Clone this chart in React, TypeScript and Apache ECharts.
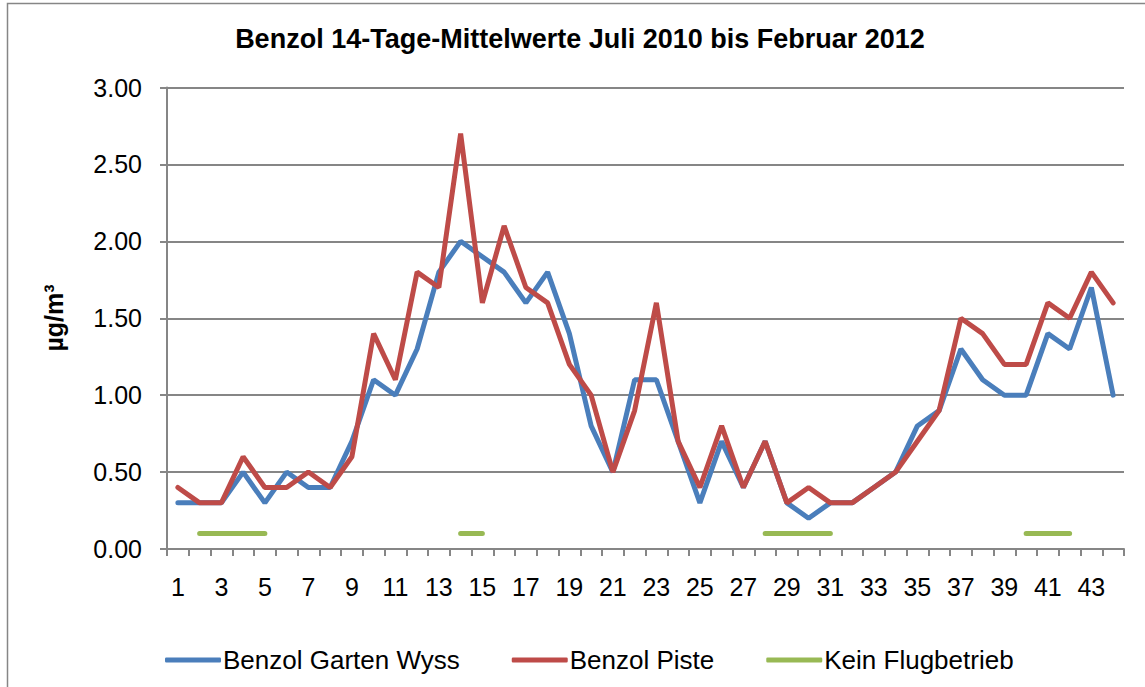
import React, { useEffect, useRef } from "react";
import * as echarts from "echarts";

const categories = Array.from({ length: 44 }, (_, i) => String(i + 1));

const gartenWyss = [
  0.3, 0.3, 0.3, 0.5, 0.3, 0.5, 0.4, 0.4, 0.7, 1.1,
  1.0, 1.3, 1.8, 2.0, 1.9, 1.8, 1.6, 1.8, 1.4, 0.8,
  0.5, 1.1, 1.1, 0.7, 0.3, 0.7, 0.4, 0.7, 0.3, 0.2,
  0.3, 0.3, 0.4, 0.5, 0.8, 0.9, 1.3, 1.1, 1.0, 1.0,
  1.4, 1.3, 1.7, 1.0,
];

const piste = [
  0.4, 0.3, 0.3, 0.6, 0.4, 0.4, 0.5, 0.4, 0.6, 1.4,
  1.1, 1.8, 1.7, 2.7, 1.6, 2.1, 1.7, 1.6, 1.2, 1.0,
  0.5, 0.9, 1.6, 0.7, 0.4, 0.8, 0.4, 0.7, 0.3, 0.4,
  0.3, 0.3, 0.4, 0.5, 0.7, 0.9, 1.5, 1.4, 1.2, 1.2,
  1.6, 1.5, 1.8, 1.6,
];

const N = null;
const keinFlugbetrieb = [
  N, 0.1, 0.1, 0.1, 0.1, N, N, N, N, N,
  N, N, N, 0.1, 0.1, N, N, N, N, N,
  N, N, N, N, N, N, N, 0.1, 0.1, 0.1,
  0.1, N, N, N, N, N, N, N, N, 0.1,
  0.1, 0.1, N, N,
];

const titleText = "Benzol 14-Tage-Mittelwerte Juli 2010 bis Februar 2012";
const yName = "µg/m³";
const seriesNames = ["Benzol Garten Wyss", "Benzol Piste", "Kein Flugbetrieb"];
const colors = ["#4A7EBB", "#BE4B48", "#98B954"];

const FONT = "'Liberation Sans', Arial, sans-serif";
const GRAY = "#868686";

export default function App() {
  const ref = useRef<HTMLDivElement>(null);
  useEffect(() => {
    if (!ref.current) return;
    const chart = echarts.init(ref.current, null, { renderer: "svg" });
    chart.setOption({
      animation: false,
      backgroundColor: "#ffffff",
      textStyle: { fontFamily: FONT },
      grid: { left: 167, right: 21, top: 87.5, bottom: 138, containLabel: false },
      graphic: [
        {
          type: "rect",
          z: -10,
          shape: { x: 7.5, y: 3.5, width: 1200, height: 750 },
          style: { fill: "none", stroke: GRAY, lineWidth: 1.5 },
        },
        {
          type: "text",
          x: 580,
          y: 39,
          style: {
            text: titleText,
            font: `bold 27px ${FONT}`,
            fill: "#000",
            align: "center",
            verticalAlign: "middle",
          },
        },
        {
          type: "text",
          x: 54,
          y: 318,
          rotation: Math.PI / 2,
          style: {
            text: yName,
            font: `bold 25px ${FONT}`,
            fill: "#000",
            align: "center",
            verticalAlign: "middle",
          },
        },
      ],
      legend: {
        left: 160,
        top: 642,
        icon: "roundRect",
        itemWidth: 56,
        itemHeight: 5,
        itemGap: 52,
        data: seriesNames,
        textStyle: { fontFamily: FONT, fontSize: 26, color: "#000", padding: [0, 0, 0, -3] },
      },
      xAxis: {
        type: "category",
        data: categories,
        boundaryGap: true,
        axisLine: { lineStyle: { color: GRAY, width: 2 } },
        axisTick: { show: true, interval: 0, length: 7, lineStyle: { color: GRAY, width: 2 } },
        axisLabel: { interval: 1, margin: 25, fontSize: 25, color: "#000", fontFamily: FONT },
        splitLine: { show: false },
      },
      yAxis: {
        type: "value",
        min: 0,
        max: 3,
        interval: 0.5,
        axisLine: { show: true, lineStyle: { color: GRAY, width: 2 } },
        axisTick: { show: true, length: 7, lineStyle: { color: GRAY, width: 2 } },
        axisLabel: {
          margin: 25,
          fontSize: 25,
          color: "#000",
          fontFamily: FONT,
          formatter: (v: number) => v.toFixed(2),
        },
        splitLine: { show: true, lineStyle: { color: GRAY, width: 2 } },
      },
      series: [
        {
          name: seriesNames[0],
          type: "line",
          data: gartenWyss,
          symbol: "none",
          color: colors[0],
          lineStyle: { width: 5, color: colors[0], cap: "round" },
          z: 2,
        },
        {
          name: seriesNames[1],
          type: "line",
          data: piste,
          symbol: "none",
          color: colors[1],
          lineStyle: { width: 5, color: colors[1], cap: "round" },
          z: 3,
        },
        {
          name: seriesNames[2],
          type: "line",
          data: keinFlugbetrieb,
          symbol: "none",
          connectNulls: false,
          color: colors[2],
          lineStyle: { width: 5, color: colors[2], cap: "round" },
          z: 4,
        },
      ],
    });
    return () => chart.dispose();
  }, []);
  return (
    <div
      ref={ref}
      style={{ position: "fixed", left: 0, top: 0, width: 1145, height: 687, background: "#fff" }}
    />
  );
}
